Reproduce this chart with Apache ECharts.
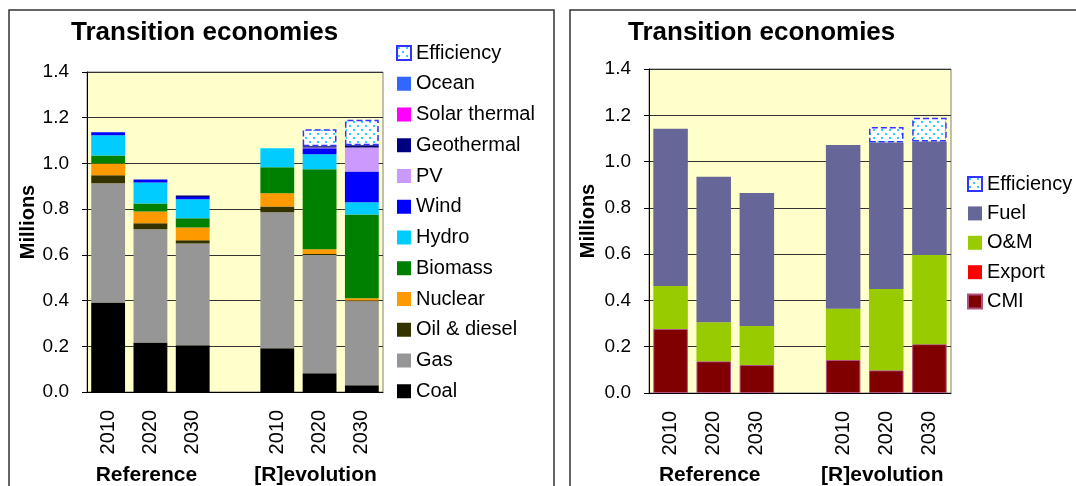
<!DOCTYPE html>
<html><head><meta charset="utf-8">
<script src="https://cdn.jsdelivr.net/npm/echarts@6/dist/echarts.min.js"></script>
<style>html,body{margin:0;padding:0;background:#fff}#c{width:1076px;height:486px}</style>
</head><body><div id="c"></div>
<script>
// ---------- data ----------
const categories = ['2010', '2020', '2030', '', '2010', '2020', '2030'];
const groupLabels = ['Reference', '[R]evolution'];
const title = 'Transition economies';
const axisName = 'Millions';

// left chart: electricity generation by source (millions)
const coal        = [0.392, 0.217, 0.204, '-', 0.191, 0.082, 0.029];
const gas         = [0.521, 0.495, 0.446, '-', 0.595, 0.517, 0.368];
const oilDiesel   = [0.035, 0.026, 0.014, '-', 0.026, 0.005, 0.003];
const nuclear     = [0.052, 0.052, 0.056, '-', 0.057, 0.020, 0.010];
const biomass     = [0.035, 0.035, 0.040, '-', 0.114, 0.350, 0.367];
const hydro       = [0.088, 0.092, 0.083, '-', 0.083, 0.066, 0.053];
const wind        = [0.013, 0.013, 0.010, '-', 0, 0.026, 0.135];
const pv          = [0, 0, 0, '-', 0, 0.004, 0.105];
const geothermal  = [0, 0, 0.007, '-', 0, 0.005, 0.009];
const solarTherm  = [0, 0, 0, '-', 0, 0, 0];
const ocean       = [0, 0, 0, '-', 0, 0, 0];
const efficiencyL = [0, 0, 0, '-', 0, 0.075, 0.112];

// right chart: cost components (millions)
const cmi         = [0.277, 0.137, 0.121, '-', 0.143, 0.098, 0.211];
const exportV     = [0, 0, 0, '-', 0, 0, 0];
const om          = [0.185, 0.169, 0.168, '-', 0.221, 0.351, 0.385];
const fuel        = [0.680, 0.628, 0.575, '-', 0.708, 0.633, 0.491];
const efficiencyR = [0, 0, 0, '-', 0, 0.067, 0.102];

const legendLeft  = ['Efficiency','Ocean','Solar thermal','Geothermal','PV','Wind','Hydro','Biomass','Nuclear','Oil & diesel','Gas','Coal'];
const legendRight = ['Efficiency','Fuel','O&M','Export','CMI'];

// ---------- styles ----------
const FONT = '"Liberation Sans", Arial, sans-serif';
const pc = document.createElement('canvas');
pc.width = 8; pc.height = 8;
const g = pc.getContext('2d');
g.fillStyle = '#ffffff'; g.fillRect(0, 0, 8, 8);
g.fillStyle = '#33ccff'; g.fillRect(1, 1, 2, 2); g.fillRect(5, 5, 2, 2);
const dotPattern = { image: pc, repeat: 'repeat' };
const effStyle = { color: dotPattern, borderColor: '#3333ff', borderType: 'dashed', borderWidth: 1.5 };

function bar(name, data, style, idx) {
  return {
    name, type: 'bar', stack: 'st' + idx, xAxisIndex: idx, yAxisIndex: idx,
    barCategoryGap: '20%',
    data: data.map(v => v === 0 ? '-' : v),
    itemStyle: typeof style === 'string' ? { color: style } : style,
    emphasis: { disabled: true }
  };
}

const series = [
  bar('Coal', coal, '#000000', 0),
  bar('Gas', gas, '#969696', 0),
  bar('Oil & diesel', oilDiesel, '#333300', 0),
  bar('Nuclear', nuclear, '#ff9900', 0),
  bar('Biomass', biomass, '#008000', 0),
  bar('Hydro', hydro, '#00ccff', 0),
  bar('Wind', wind, '#0000ff', 0),
  bar('PV', pv, '#cc99ff', 0),
  bar('Geothermal', geothermal, '#000080', 0),
  bar('Solar thermal', solarTherm, '#ff00ff', 0),
  bar('Ocean', ocean, '#3366ff', 0),
  bar('Efficiency', efficiencyL, effStyle, 0),
  bar('CMI', cmi, { color: '#800000', borderColor: '#b05080', borderWidth: 1 }, 1),
  bar('Export', exportV, '#ff0000', 1),
  bar('O&M', om, '#99cc00', 1),
  bar('Fuel', fuel, '#666699', 1),
  bar('Efficiency', efficiencyR, effStyle, 1)
];

function xAx(idx) {
  return {
    type: 'category', gridIndex: idx, data: categories,
    axisLine: { lineStyle: { color: '#000', width: 1 } },
    axisTick: { length: 6, lineStyle: { color: '#000' } },
    axisLabel: { rotate: 90, margin: 18, fontSize: 20, color: '#000', fontFamily: FONT, interval: 0 }
  };
}
function yAx(idx, gap) {
  return {
    type: 'value', gridIndex: idx, min: 0, max: 1.4, interval: 0.2,
    name: axisName, nameLocation: 'middle', nameRotate: 90, nameGap: gap,
    nameTextStyle: { fontSize: 20, fontWeight: 'bold', color: '#000', fontFamily: FONT, padding: [0, 0, 0, 20] },
    axisLine: { show: true, lineStyle: { color: '#000' } },
    axisTick: { show: true, length: 5, lineStyle: { color: '#000' } },
    axisLabel: { fontSize: 19, color: '#000', margin: 18, fontFamily: FONT, formatter: v => v.toFixed(1) },
    splitLine: { lineStyle: { color: '#333', width: 1 } }
  };
}

const chart = echarts.init(document.getElementById('c'), null, { renderer: 'canvas' });
const legendText = { fontSize: 20, lineHeight: 20, color: '#000', fontFamily: FONT };
const titleText = { fontSize: 26, fontWeight: 'bold', color: '#000', fontFamily: FONT };
chart.setOption({
  animation: false,
  backgroundColor: '#fff',
  title: [
    { text: title, left: 66, top: 15, textStyle: titleText },
    { text: title, left: 623, top: 15, textStyle: titleText }
  ],
  grid: [
    { left: 87, top: 72, width: 296, height: 320, show: true, backgroundColor: '#ffffcc', borderColor: '#808080', borderWidth: 1 },
    { left: 649, top: 69, width: 302, height: 324, show: true, backgroundColor: '#ffffcc', borderColor: '#808080', borderWidth: 1 }
  ],
  xAxis: [xAx(0), xAx(1)],
  yAxis: [yAx(0, 49), yAx(1, 51)],
  legend: [
    { data: legendLeft, orient: 'vertical', left: 391, top: 38, itemWidth: 14, itemHeight: 14, itemGap: 10.75,
      icon: 'rect', textStyle: legendText, selectedMode: false },
    { data: legendRight, orient: 'vertical', left: 962, top: 169, itemWidth: 14, itemHeight: 14, itemGap: 9.4,
      icon: 'rect', textStyle: legendText, selectedMode: false }
  ],
  series
});

// group labels positioned from the axes
const graphics = [
  { type: 'rect', shape: { x: 9, y: 10, width: 545, height: 520 }, style: { fill: 'none', stroke: '#333', lineWidth: 1.5 }, silent: true },
  { type: 'rect', shape: { x: 570, y: 10, width: 540, height: 520 }, style: { fill: 'none', stroke: '#333', lineWidth: 1.5 }, silent: true }
];
[0, 1].forEach(idx => {
  [[1, 0], [5, 1]].forEach(([ci, gi]) => {
    const x = chart.convertToPixel({ xAxisIndex: idx }, ci);
    graphics.push({ type: 'text', x: x - 4, y: 475,
      style: { text: groupLabels[gi], fontSize: 21, fontWeight: 'bold', fill: '#000', fontFamily: FONT, align: 'center', verticalAlign: 'middle' } });
  });
});
chart.setOption({ graphic: graphics });
</script></body></html>
